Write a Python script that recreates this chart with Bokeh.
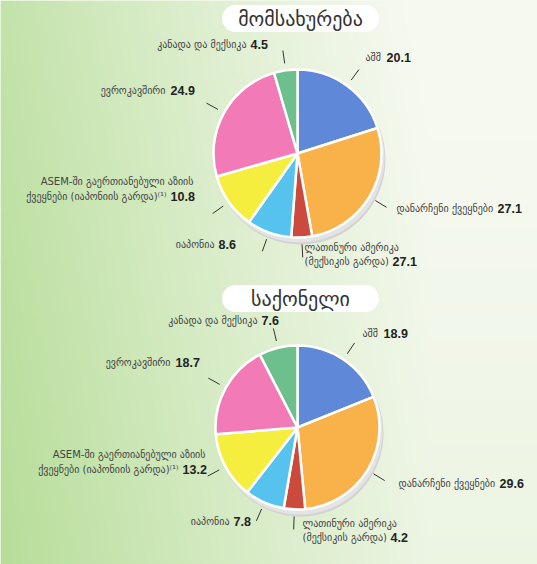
import numpy as np
from bokeh.plotting import figure
from bokeh.models import Range1d
from bokeh.core.properties import value
from bokeh.embed import file_html
from bokeh.resources import INLINE

# ---------------- data ----------------
titles = ["მომსახურება", "საქონელი"]
categories = [
    "აშშ",
    "დანარჩენი ქვეყნები",
    "ლათინური ამერიკა\n(მექსიკის გარდა)",
    "იაპონია",
    "ASEM-ში გაერთიანებული აზიის\nქვეყნები (იაპონიის გარდა)⁽¹⁾",
    "ევროკავშირი",
    "კანადა და მექსიკა",
]
# slice sizes (services: Latin America slice, its printed label is 27.1)
services_values = [20.1, 27.1, 4.0, 8.6, 10.8, 24.9, 4.5]
services_labels = ["20.1", "27.1", "27.1", "8.6", "10.8", "24.9", "4.5"]
goods_values = [18.9, 29.6, 4.2, 7.8, 13.2, 18.7, 7.6]
goods_labels = ["18.9", "29.6", "4.2", "7.8", "13.2", "18.7", "7.6"]
colors = ["#5f88d8", "#f9b24a", "#cc4a3c", "#56c3ef", "#f5ee3e", "#f27ab6", "#6dbf8c"]

# ---------------- layout (reference pixel coords, Y downward) ----------------
W, H = 537, 564
def Y(v):
    return H - v

pies = [
    dict(cx=297, cy=153, r=84, title_y=18,
         # (name_x, name_align, num_x, y) ; for two-line labels y is of line 2
         lab=[(365, "left", 386, 57),
              (396, "left", 497, 208),
              (304, "left", 392, 261),
              (214, "right", 218, 244),
              (166, "right", 170, 196),
              (165, "right", 170, 90),
              (246, "right", 250, 44)]),
    dict(cx=297, cy=427, r=82, title_y=298,
         lab=[(362, "left", 383, 333),
              (398, "left", 499, 483),
              (302, "left", 390, 537),
              (229, "right", 233, 521),
              (178, "right", 182, 469),
              (170, "right", 175, 362),
              (257, "right", 261, 320)]),
]

p = figure(width=W, height=H,
           x_range=Range1d(0, W), y_range=Range1d(0, H),
           x_axis_type=None, y_axis_type=None,
           output_backend="svg", toolbar_location=None, min_border=0)
p.grid.visible = False
p.outline_line_color = None
p.background_fill_color = "#eef5e4"

# background gradient
nx, ny = 200, 200
xs = np.linspace(0, 1, nx)[None, :]
ys = np.linspace(0, 1, ny)[:, None]  # 0 bottom, 1 top
mix = np.clip(xs / 0.8, 0, 1) ** 0.9 * 0.85 + ys * 0.2
mix = np.clip(mix, 0, 1)
left = np.array([182, 221, 152])
right = np.array([246, 249, 240])
rgb = left[None, None, :] * (1 - mix[..., None]) + right[None, None, :] * mix[..., None]
img = np.empty((ny, nx), dtype=np.uint32)
view = img.view(dtype=np.uint8).reshape((ny, nx, 4))
view[..., :3] = rgb.astype(np.uint8)
view[..., 3] = 255
p.image_rgba(image=[img], x=0, y=0, dw=W, dh=H)

name_font = value("DejaVu Sans")
num_font = value("Liberation Sans")
NAME_SIZE = "10px"
NAME_COLOR = "#444444"

for pie, vals, labs, title in zip(pies, [services_values, goods_values],
                                  [services_labels, goods_labels], titles):
    cx, cy, r = pie["cx"], Y(pie["cy"]), pie["r"]
    # title pill
    ty = Y(pie["title_y"])
    p.rect(x=[300], y=[ty], width=130, height=27, fill_color="white", line_color=None)
    p.circle(x=[235, 365], y=[ty, ty], radius=13.5, fill_color="white", line_color=None)
    p.text(x=[300], y=[ty], text=[title], text_align="center", text_baseline="middle",
           text_font=name_font, text_font_size="20px", text_color="#333333")

    v = np.array(vals, dtype=float)
    cum = np.concatenate([[0], np.cumsum(v)]) / v.sum()
    start = np.pi / 2 - 2 * np.pi * cum[:-1]
    end = np.pi / 2 - 2 * np.pi * cum[1:]
    mid = (start + end) / 2

    # shadow rim
    p.circle(x=[cx + 3], y=[cy - 6], radius=r + 1, fill_color="#d3d3d3", line_color=None)
    p.circle(x=[cx + 2], y=[cy - 4], radius=r + 1, fill_color="#e4e4e4", line_color=None)
    p.wedge(x=cx, y=cy, radius=r, start_angle=list(start), end_angle=list(end),
            direction="clock", fill_color=colors, line_color="white", line_width=2.5)

    # leader lines
    r0, r1 = r + 7, r + 20
    p.segment(x0=list(cx + r0 * np.cos(mid)), y0=list(cy + r0 * np.sin(mid)),
              x1=list(cx + r1 * np.cos(mid)), y1=list(cy + r1 * np.sin(mid)),
              line_color="#333333", line_width=1)

    # labels
    for name, lab, (nxp, al, numx, yy) in zip(categories, labs, pie["lab"]):
        lines = name.split("\n")
        if len(lines) == 2:
            if al == "right":
                p.text(x=[numx + 23], y=[Y(yy - 15)], text=[lines[0]], text_align="right",
                       text_baseline="middle", text_font=name_font,
                       text_font_size=NAME_SIZE, text_color=NAME_COLOR)
            else:
                p.text(x=[nxp], y=[Y(yy - 14)], text=[lines[0]], text_align="left",
                       text_baseline="middle", text_font=name_font,
                       text_font_size=NAME_SIZE, text_color=NAME_COLOR)
            p.text(x=[nxp], y=[Y(yy)], text=[lines[1]], text_align=al,
                   text_baseline="middle", text_font=name_font,
                   text_font_size=NAME_SIZE, text_color=NAME_COLOR)
        else:
            p.text(x=[nxp], y=[Y(yy)], text=[lines[0]], text_align=al,
                   text_baseline="middle", text_font=name_font,
                   text_font_size=NAME_SIZE, text_color=NAME_COLOR)
        p.text(x=[numx], y=[Y(yy)], text=[lab], text_align="left", text_baseline="middle",
               text_font=num_font, text_font_style="bold", text_font_size="12.5px",
               text_color="#222222")

open("out.html", "w").write(file_html(p, INLINE))
